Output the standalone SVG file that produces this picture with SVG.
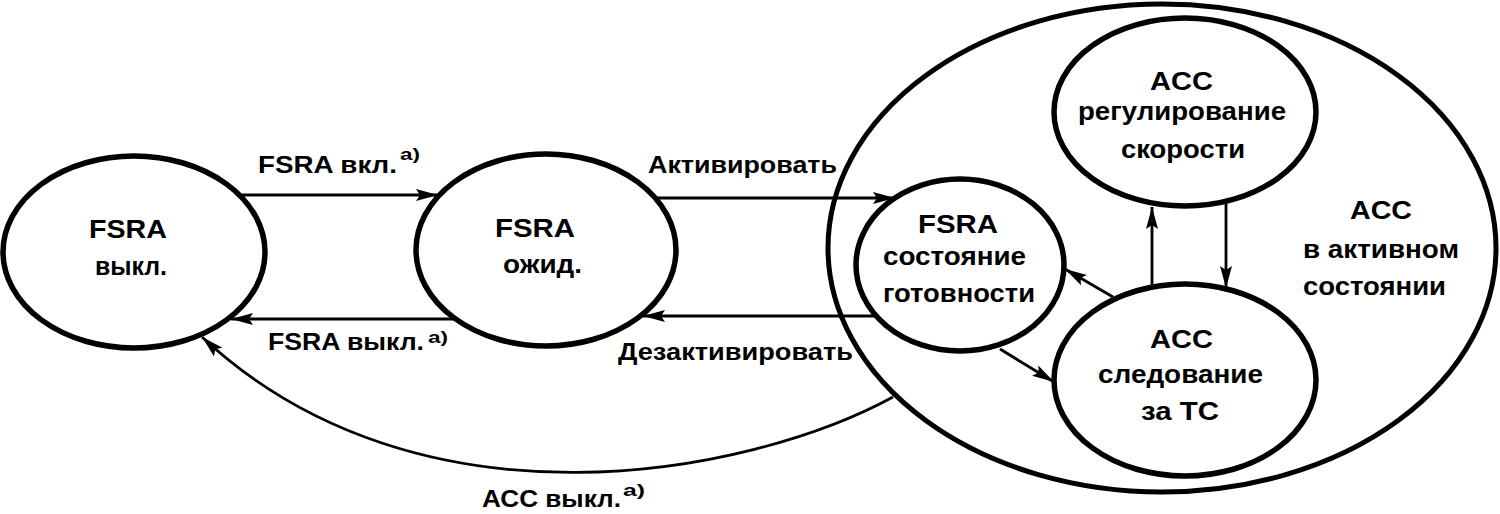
<svg xmlns="http://www.w3.org/2000/svg" width="1500" height="514" viewBox="0 0 1500 514">
<defs>
<style>
.node{fill:none;stroke:#000;stroke-width:5.5}
.big{fill:none;stroke:#000;stroke-width:5}
.edge{fill:none;stroke:#000;stroke-width:2.8}
text{font-family:"Liberation Sans",Arial,sans-serif;font-weight:bold;fill:#000}
.t{font-size:26px}
.l{font-size:24px}
.s{font-size:17px}
</style>
<marker id="arr" markerUnits="userSpaceOnUse" markerWidth="24" markerHeight="14" refX="22" refY="7" orient="auto">
<path d="M0,1 L22,7 L0,13 L4,7 z" fill="#000"/>
</marker>
</defs>
<rect width="1500" height="514" fill="#fff"/>

<g id="acc-active">
<ellipse class="big" cx="1162" cy="248" rx="334" ry="244"/>
<text class="t" x="1350" y="219" textLength="62" lengthAdjust="spacingAndGlyphs">ACC</text>
<text class="t" x="1303" y="258" textLength="156" lengthAdjust="spacingAndGlyphs">в активном</text>
<text class="t" x="1303" y="295" textLength="143" lengthAdjust="spacingAndGlyphs">состоянии</text>
</g>

<g id="fsra-off">
<ellipse class="node" cx="134" cy="252" rx="131" ry="96"/>
<text class="t" x="89" y="238" textLength="78" lengthAdjust="spacingAndGlyphs">FSRA</text>
<text class="t" x="95" y="275" textLength="72" lengthAdjust="spacingAndGlyphs">выкл.</text>
</g>

<g id="fsra-standby">
<ellipse class="node" cx="546" cy="250" rx="130" ry="96"/>
<text class="t" x="495" y="237" textLength="80" lengthAdjust="spacingAndGlyphs">FSRA</text>
<text class="t" x="503" y="273" textLength="79" lengthAdjust="spacingAndGlyphs">ожид.</text>
</g>

<g id="fsra-ready">
<ellipse class="node" cx="960" cy="265" rx="104" ry="86"/>
<text class="t" x="918" y="233" textLength="80" lengthAdjust="spacingAndGlyphs">FSRA</text>
<text class="t" x="883" y="265" textLength="143" lengthAdjust="spacingAndGlyphs">состояние</text>
<text class="t" x="883" y="302" textLength="152" lengthAdjust="spacingAndGlyphs">готовности</text>
</g>

<g id="acc-speed">
<ellipse class="node" cx="1185" cy="112" rx="131" ry="94"/>
<text class="t" x="1150" y="90" textLength="63" lengthAdjust="spacingAndGlyphs">ACC</text>
<text class="t" x="1078" y="120" textLength="208" lengthAdjust="spacingAndGlyphs">регулирование</text>
<text class="t" x="1121" y="158" textLength="124" lengthAdjust="spacingAndGlyphs">скорости</text>
</g>

<g id="acc-follow">
<ellipse class="node" cx="1185" cy="380" rx="131" ry="96"/>
<text class="t" x="1150" y="348" textLength="63" lengthAdjust="spacingAndGlyphs">ACC</text>
<text class="t" x="1098" y="383" textLength="165" lengthAdjust="spacingAndGlyphs">следование</text>
<text class="t" x="1141" y="420" textLength="78" lengthAdjust="spacingAndGlyphs">за ТС</text>
</g>

<g id="connectors">
<path class="edge" d="M242,195 L438,195" marker-end="url(#arr)"/>
<path class="edge" d="M454,319 L231,319" marker-end="url(#arr)"/>
<path class="edge" d="M657,198 L895,198" marker-end="url(#arr)"/>
<path class="edge" d="M875,316 L643,316" marker-end="url(#arr)"/>
<path class="edge" d="M893,397 C750,475 420,540 202,337" marker-end="url(#arr)"/>
<path class="edge" d="M1152,287 L1152,207" marker-end="url(#arr)"/>
<path class="edge" d="M1226,203 L1226,288" marker-end="url(#arr)"/>
<path class="edge" d="M1113,297 L1065,269" marker-end="url(#arr)"/>
<path class="edge" d="M1000,349 L1054,382" marker-end="url(#arr)"/>
<text class="l" x="258" y="173" textLength="139" lengthAdjust="spacingAndGlyphs">FSRA вкл.</text>
<text class="s" x="400" y="160" textLength="20" lengthAdjust="spacingAndGlyphs">а)</text>
<text class="l" x="268" y="350" textLength="156" lengthAdjust="spacingAndGlyphs">FSRA выкл.</text>
<text class="s" x="428" y="343" textLength="20" lengthAdjust="spacingAndGlyphs">а)</text>
<text class="l" x="648" y="173" textLength="189" lengthAdjust="spacingAndGlyphs">Активировать</text>
<text class="l" x="618" y="360" textLength="235" lengthAdjust="spacingAndGlyphs">Дезактивировать</text>
<text class="l" x="482" y="507" textLength="139" lengthAdjust="spacingAndGlyphs">АСС выкл.</text>
<text class="s" x="623" y="496" textLength="22" lengthAdjust="spacingAndGlyphs">а)</text>
</g>
</svg>
